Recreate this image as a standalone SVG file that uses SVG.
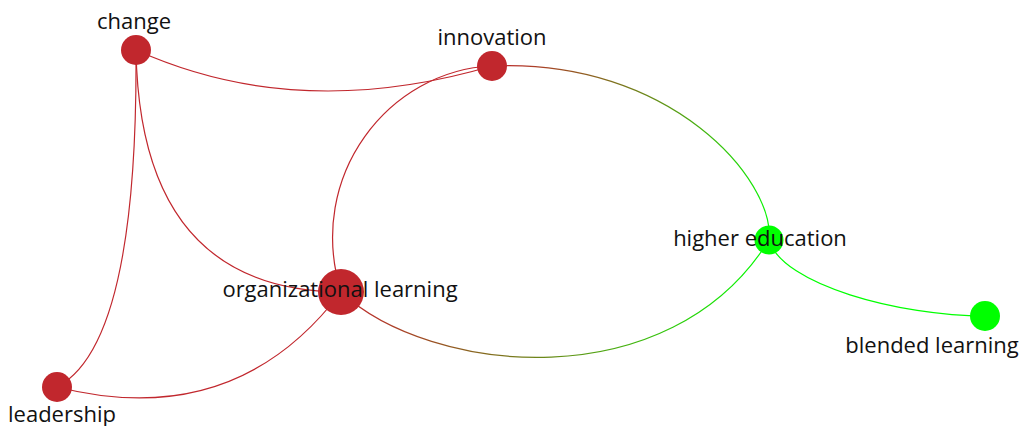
<svg xmlns="http://www.w3.org/2000/svg" width="1027" height="426" viewBox="0 0 1027 426">
<style>
.e{fill:none;stroke-width:1.2}
.r{stroke:#c1272d}
.g{stroke:#00ff00}
.nr{fill:#c1272d}
.ng{fill:#00ff00}
text{font-family:"Open Sans","DejaVu Sans",sans-serif;font-size:22px;fill:#111;text-anchor:middle}
</style>
<defs>
<linearGradient id="gIH" gradientUnits="userSpaceOnUse" x1="492" y1="66" x2="769" y2="240">
<stop offset="0" stop-color="#c1272d"/><stop offset="1" stop-color="#00ff00"/>
</linearGradient>
<linearGradient id="gOH" gradientUnits="userSpaceOnUse" x1="341" y1="292" x2="769" y2="240">
<stop offset="0" stop-color="#c1272d"/><stop offset="1" stop-color="#00ff00"/>
</linearGradient>
</defs>
<g id="edges">
<path class="e r" d="M136,50 Q298,123 492,66"/>
<path class="e r" d="M136,50 Q140,290 341,292"/>
<path class="e r" d="M136,50 Q138,345 57,387"/>
<path class="e r" d="M57,387 Q235,432 341,292"/>
<path class="e r" d="M492,66 C390,70 305,175 341,292"/>
<path class="e" stroke="url(#gIH)" d="M492,66 C670,58 775,180 769,240"/>
<path class="e" stroke="url(#gOH)" d="M341,292 C430,375 670,400 769,240"/>
<path class="e g" d="M769,240 C782,285 900,316 985,316"/>
</g>
<g id="node-change"><circle class="nr" cx="136" cy="50" r="15"/><text x="134" y="29">change</text></g>
<g id="node-innovation"><circle class="nr" cx="492" cy="66" r="15"/><text x="492" y="45">innovation</text></g>
<g id="node-leadership"><circle class="nr" cx="57" cy="387" r="15"/><text x="62" y="422">leadership</text></g>
<g id="node-organizational-learning"><circle class="nr" cx="341" cy="292" r="23"/><text x="340" y="297">organizational learning</text></g>
<g id="node-higher-education"><circle class="ng" cx="769" cy="240" r="14.5"/><text x="760" y="246">higher education</text></g>
<g id="node-blended-learning"><circle class="ng" cx="985" cy="316" r="15"/><text x="932" y="353">blended learning</text></g>
</svg>
